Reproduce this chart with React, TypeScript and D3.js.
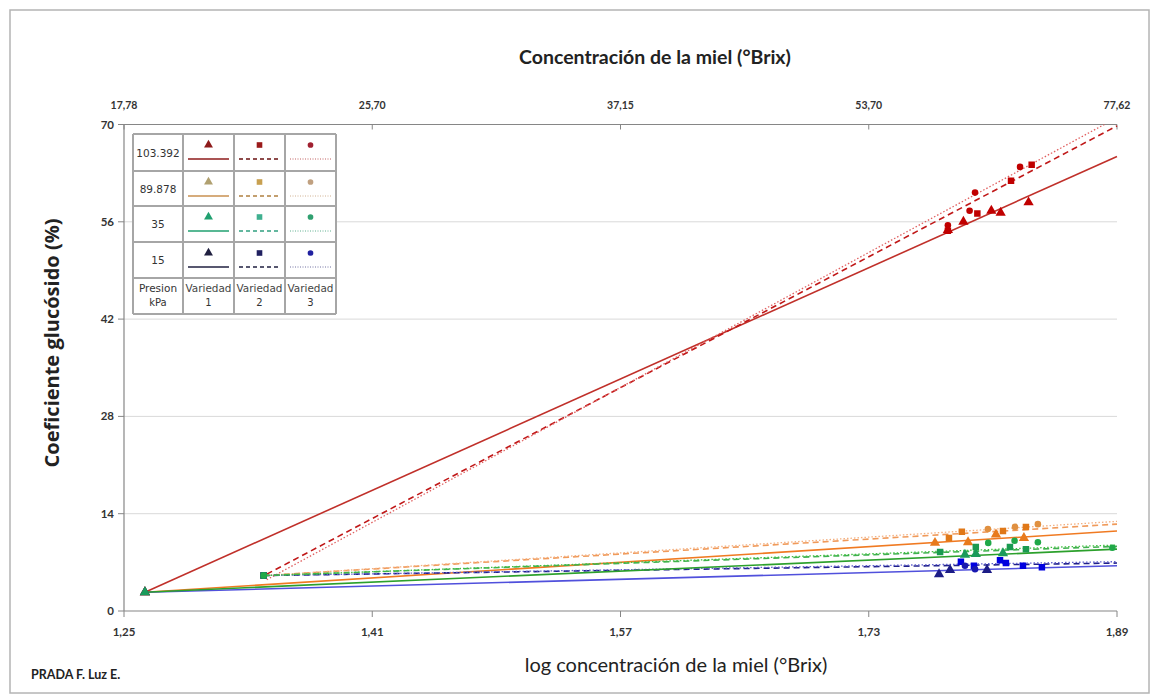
import { useEffect, useRef } from "react";
import * as d3 from "d3";

const W = 1159;
const H = 698;

// eje inferior (log) y eje superior (°Brix)
const xTicks = [1.25, 1.41, 1.57, 1.73, 1.89];
const xTickLabels = ["1,25", "1,41", "1,57", "1,73", "1,89"];
const topTickLabels = ["17,78", "25,70", "37,15", "53,70", "77,62"];
const yTicks = [0, 14, 28, 42, 56, 70];

const pressures = ["103.392", "89.878", "35", "15"];
const varietyNums = ["1", "2", "3"];

// puntos medidos [log °Brix, coeficiente %]
const rojo1 = [[1.2635, 2.7], [1.781, 54.8], [1.791, 56.0], [1.809, 57.6], [1.815, 57.3], [1.833, 58.8]];
const rojo2 = [[1.34, 5.1], [1.781, 54.7], [1.8, 57.2], [1.8217, 61.9], [1.835, 64.2]];
const rojo3 = [[1.34, 5.1], [1.781, 55.5], [1.795, 57.6], [1.7985, 60.2], [1.8275, 63.9]];

const naranja1 = [[1.2635, 2.7], [1.7727, 9.8], [1.794, 9.9], [1.812, 11.0], [1.83, 10.5]];
const naranja2 = [[1.34, 5.1], [1.7817, 10.5], [1.79, 11.4], [1.8165, 11.5], [1.8313, 12.1]];
const naranja3 = [[1.34, 5.1], [1.8068, 11.8], [1.8243, 12.1], [1.839, 12.5]];

const verde1 = [[1.2635, 2.7], [1.792, 8.1], [1.799, 8.2], [1.8165, 8.3]];
const verde2 = [[1.34, 5.1], [1.776, 8.5], [1.799, 9.2], [1.821, 9.2], [1.8313, 8.9]];
const verde3 = [[1.34, 5.1], [1.807, 9.8], [1.824, 10.1], [1.839, 9.9], [1.887, 9.1]];

const azul1 = [[1.2635, 2.7], [1.7753, 5.3], [1.7824, 5.9], [1.8062, 5.9]];
const azul2 = [[1.34, 5.1], [1.7894, 7.1], [1.7978, 6.5], [1.8146, 7.3], [1.8184, 6.9], [1.8294, 6.5], [1.8416, 6.3]];
const azul3 = [[1.34, 5.1], [1.792, 6.5], [1.7985, 6.0]];

// líneas de tendencia [inicio, fin]
const rojo1Trend = [[1.2635, 2.7], [1.89, 65.4]];
const rojo2Trend = [[1.342, 5.3], [1.89, 69.8]];
const rojo3Trend = [[1.342, 4.5], [1.89, 71.0]];
const naranja1Trend = [[1.2635, 2.7], [1.89, 11.5]];
const naranja2Trend = [[1.34, 5.1], [1.89, 12.5]];
const naranja3Trend = [[1.34, 5.1], [1.89, 12.9]];
const verde1Trend = [[1.2635, 2.7], [1.89, 8.9]];
const verde2Trend = [[1.34, 5.1], [1.89, 9.3]];
const verde3Trend = [[1.34, 5.1], [1.89, 9.5]];
const azul1Trend = [[1.2635, 2.7], [1.89, 6.5]];
const azul2Trend = [[1.34, 5.1], [1.89, 6.9]];
const azul3Trend = [[1.34, 5.1], [1.89, 7.1]];

const dashes = [null, "6,4", "1.5,2"];
const shapes = [d3.symbolTriangle, d3.symbolSquare, d3.symbolCircle];
const shapeSizes = [46, 42, 34];

const series = [
  { p: 0, v: 0, pts: rojo1, trend: rojo1Trend, mark: "#c00000", line: "#c0302a" },
  { p: 0, v: 1, pts: rojo2, trend: rojo2Trend, mark: "#c00000", line: "#c01818" },
  { p: 0, v: 2, pts: rojo3, trend: rojo3Trend, mark: "#c00000", line: "#e06060" },
  { p: 1, v: 0, pts: naranja1, trend: naranja1Trend, mark: "#e87a1c", line: "#f07a22" },
  { p: 1, v: 1, pts: naranja2, trend: naranja2Trend, mark: "#e07818", line: "#f09a5a" },
  { p: 1, v: 2, pts: naranja3, trend: naranja3Trend, mark: "#e09040", line: "#f4b080" },
  { p: 3, v: 0, pts: azul1, trend: azul1Trend, mark: "#1c1c86", line: "#5050dc" },
  { p: 3, v: 1, pts: azul2, trend: azul2Trend, mark: "#0000e0", line: "#20208a" },
  { p: 3, v: 2, pts: azul3, trend: azul3Trend, mark: "#1818b0", line: "#6060d0" },
  { p: 2, v: 0, pts: verde1, trend: verde1Trend, mark: "#1a9a5a", line: "#2ca02c" },
  { p: 2, v: 1, pts: verde2, trend: verde2Trend, mark: "#1a9a50", line: "#40b050" },
  { p: 2, v: 2, pts: verde3, trend: verde3Trend, mark: "#20a848", line: "#40c040" },
];

// colores de la tabla de leyenda [marcador, línea] por fila/columna
const legendColors = [
  [["#8e1b1b", "#8e1b1b"], ["#9a1a1a", "#6a1010"], ["#a02030", "#c06060"]],
  [["#b0a070", "#c89050"], ["#c8a050", "#b08040"], ["#c0a080", "#d0b090"]],
  [["#20a070", "#20a070"], ["#40b090", "#30a080"], ["#30a070", "#60b090"]],
  [["#202040", "#202040"], ["#202060", "#202040"], ["#2020a0", "#7070a0"]],
];

const calibri = "Lato, 'Open Sans', sans-serif";

export default function App() {
  const ref = useRef<SVGSVGElement>(null);

  useEffect(() => {
    if (!ref.current) return;
    const svg = d3.select(ref.current);
    svg.selectAll("*").remove();

    const x = d3.scaleLinear().domain([1.25, 1.89]).range([124, 1117]);
    const y = d3.scaleLinear().domain([0, 70]).range([611, 124.5]);

    svg.append("rect").attr("width", W).attr("height", H).attr("fill", "#fff");
    svg.append("rect")
      .attr("x", 10).attr("y", 10).attr("width", 1139).attr("height", 683)
      .attr("fill", "none").attr("stroke", "#b4b4b4").attr("stroke-width", 1.5);

    svg.append("defs").append("clipPath").attr("id", "plot")
      .append("rect").attr("x", 124).attr("y", 124.5).attr("width", 995).attr("height", 490);

    // rejilla
    svg.append("g").selectAll("line").data(yTicks.filter((d) => d > 0 && d < 70)).enter().append("line")
      .attr("x1", x(1.25)).attr("x2", x(1.89)).attr("y1", (d) => y(d)).attr("y2", (d) => y(d))
      .attr("stroke", "#d9d9d9").attr("stroke-width", 1);

    const axisColor = "#868686";
    // eje y
    svg.append("line").attr("x1", 124).attr("x2", 124).attr("y1", y(70)).attr("y2", y(0))
      .attr("stroke", axisColor).attr("stroke-width", 1.2);
    svg.append("g").selectAll("line").data(yTicks).enter().append("line")
      .attr("x1", 118).attr("x2", 124).attr("y1", (d) => y(d)).attr("y2", (d) => y(d))
      .attr("stroke", axisColor);
    svg.append("g").selectAll("text").data(yTicks).enter().append("text")
      .attr("x", 114).attr("y", (d) => y(d) + 4).attr("text-anchor", "end")
      .attr("font-family", calibri).attr("font-weight", "bold").attr("font-size", 11.5).attr("fill", "#333")
      .text((d) => String(d));

    // eje inferior
    svg.append("line").attr("x1", x(1.25)).attr("x2", x(1.89)).attr("y1", y(0)).attr("y2", y(0))
      .attr("stroke", axisColor).attr("stroke-width", 1.2);
    svg.append("g").selectAll("line").data(xTicks).enter().append("line")
      .attr("x1", (d) => x(d)).attr("x2", (d) => x(d)).attr("y1", y(0)).attr("y2", y(0) + 6)
      .attr("stroke", axisColor);
    svg.append("g").selectAll("text").data(xTicks).enter().append("text")
      .attr("x", (d) => x(d)).attr("y", 636).attr("text-anchor", "middle")
      .attr("font-family", calibri).attr("font-weight", "bold").attr("font-size", 11.5).attr("fill", "#333")
      .text((_, i) => xTickLabels[i]);

    // eje superior
    svg.append("line").attr("x1", x(1.25)).attr("x2", x(1.89)).attr("y1", y(70)).attr("y2", y(70))
      .attr("stroke", axisColor).attr("stroke-width", 1.2);
    svg.append("g").selectAll("line").data(xTicks).enter().append("line")
      .attr("x1", (d) => x(d)).attr("x2", (d) => x(d)).attr("y1", y(70)).attr("y2", y(70) + 5)
      .attr("stroke", axisColor);
    svg.append("g").selectAll("text").data(xTicks).enter().append("text")
      .attr("x", (d) => x(d)).attr("y", 109).attr("text-anchor", "middle")
      .attr("font-family", calibri).attr("font-weight", "bold").attr("font-size", 10.5).attr("fill", "#333")
      .text((_, i) => topTickLabels[i]);

    // títulos
    svg.append("text").attr("x", 655).attr("y", 64).attr("text-anchor", "middle")
      .attr("font-family", calibri).attr("font-weight", "bold").attr("font-size", 19.5).attr("fill", "#222")
      .text("Concentración de la miel (°Brix)");
    svg.append("text").attr("x", 676).attr("y", 672).attr("text-anchor", "middle")
      .attr("font-family", calibri).attr("font-size", 20).attr("fill", "#222")
      .text("log concentración de la miel (°Brix)");
    svg.append("text").attr("transform", "translate(59,343) rotate(-90)").attr("text-anchor", "middle")
      .attr("font-family", "'Open Sans', sans-serif").attr("font-weight", "bold").attr("font-size", 20)
      .attr("fill", "#222").text("Coeficiente glucósido (%)");
    svg.append("text").attr("x", 31).attr("y", 679)
      .attr("font-family", calibri).attr("font-weight", "bold").attr("font-size", 12.5).attr("fill", "#222")
      .text("PRADA F. Luz E.");

    // líneas de tendencia
    const line = d3.line<number[]>().x((d) => x(d[0])).y((d) => y(d[1]));
    const plot = svg.append("g").attr("clip-path", "url(#plot)");
    series.forEach((s) => {
      plot.append("path").attr("d", line(s.trend)).attr("fill", "none")
        .attr("stroke", s.line).attr("stroke-width", s.v === 2 ? 1.3 : 1.6)
        .attr("stroke-dasharray", dashes[s.v]);
    });

    // marcadores
    series.forEach((s) => {
      const sym = d3.symbol().type(shapes[s.v]).size(shapeSizes[s.v]);
      plot.append("g").selectAll("path").data(s.pts).enter().append("path")
        .attr("transform", (d) => `translate(${x(d[0])},${y(d[1])})`)
        .attr("d", sym()).attr("fill", s.mark);
    });

    // tabla de leyenda
    const cols = [133, 183, 234, 285, 336];
    const rows = [134, 171, 206, 242, 278, 314];
    const tbl = svg.append("g");
    tbl.append("rect").attr("x", cols[0]).attr("y", rows[0]).attr("width", cols[4] - cols[0])
      .attr("height", rows[5] - rows[0]).attr("fill", "#fff");
    const cellFont = "'DejaVu Sans', sans-serif";
    pressures.forEach((p, r) => {
      const top = rows[r], bot = rows[r + 1];
      tbl.append("text").attr("x", (cols[0] + cols[1]) / 2).attr("y", (top + bot) / 2 + 4)
        .attr("text-anchor", "middle").attr("font-family", cellFont).attr("font-size", 10.5)
        .attr("fill", "#333").text(p);
      varietyNums.forEach((_, v) => {
        const cx = (cols[v + 1] + cols[v + 2]) / 2;
        const [mc, lc] = legendColors[r][v];
        tbl.append("path").attr("transform", `translate(${cx},${top + 11})`)
          .attr("d", d3.symbol().type(shapes[v]).size(shapeSizes[v] * 0.75)()).attr("fill", mc);
        tbl.append("line").attr("x1", cols[v + 1] + 5).attr("x2", cols[v + 2] - 5)
          .attr("y1", top + 25).attr("y2", top + 25).attr("stroke", lc)
          .attr("stroke-width", v === 2 ? 1 : 1.5).attr("stroke-dasharray", v === 1 ? "4,3" : v === 2 ? "1,1.5" : null);
      });
    });
    const lastTop = rows[4];
    tbl.append("text").attr("x", (cols[0] + cols[1]) / 2).attr("y", lastTop + 14).attr("text-anchor", "middle")
      .attr("font-family", cellFont).attr("font-size", 10.5).attr("fill", "#333").text("Presion");
    tbl.append("text").attr("x", (cols[0] + cols[1]) / 2).attr("y", lastTop + 28).attr("text-anchor", "middle")
      .attr("font-family", cellFont).attr("font-size", 10).attr("fill", "#333").text("kPa");
    varietyNums.forEach((n, v) => {
      const cx = (cols[v + 1] + cols[v + 2]) / 2;
      tbl.append("text").attr("x", cx).attr("y", lastTop + 14).attr("text-anchor", "middle")
        .attr("font-family", cellFont).attr("font-size", 10).attr("textLength", 46)
        .attr("lengthAdjust", "spacingAndGlyphs").attr("fill", "#444")
        .text("Variedad");
      tbl.append("text").attr("x", cx).attr("y", lastTop + 28).attr("text-anchor", "middle")
        .attr("font-family", cellFont).attr("font-size", 10).attr("fill", "#333").text(n);
    });
    tbl.append("g").selectAll("line").data(cols).enter().append("line")
      .attr("x1", (d) => d).attr("x2", (d) => d).attr("y1", rows[0]).attr("y2", rows[5])
      .attr("stroke", "#a6a6a6").attr("stroke-width", 2);
    tbl.append("g").selectAll("line").data(rows).enter().append("line")
      .attr("x1", cols[0]).attr("x2", cols[4]).attr("y1", (d) => d).attr("y2", (d) => d)
      .attr("stroke", "#a6a6a6").attr("stroke-width", 2);
  }, []);

  return (
    <svg ref={ref} width={W} height={H} style={{ position: "absolute", left: 0, top: 0 }} />
  );
}
